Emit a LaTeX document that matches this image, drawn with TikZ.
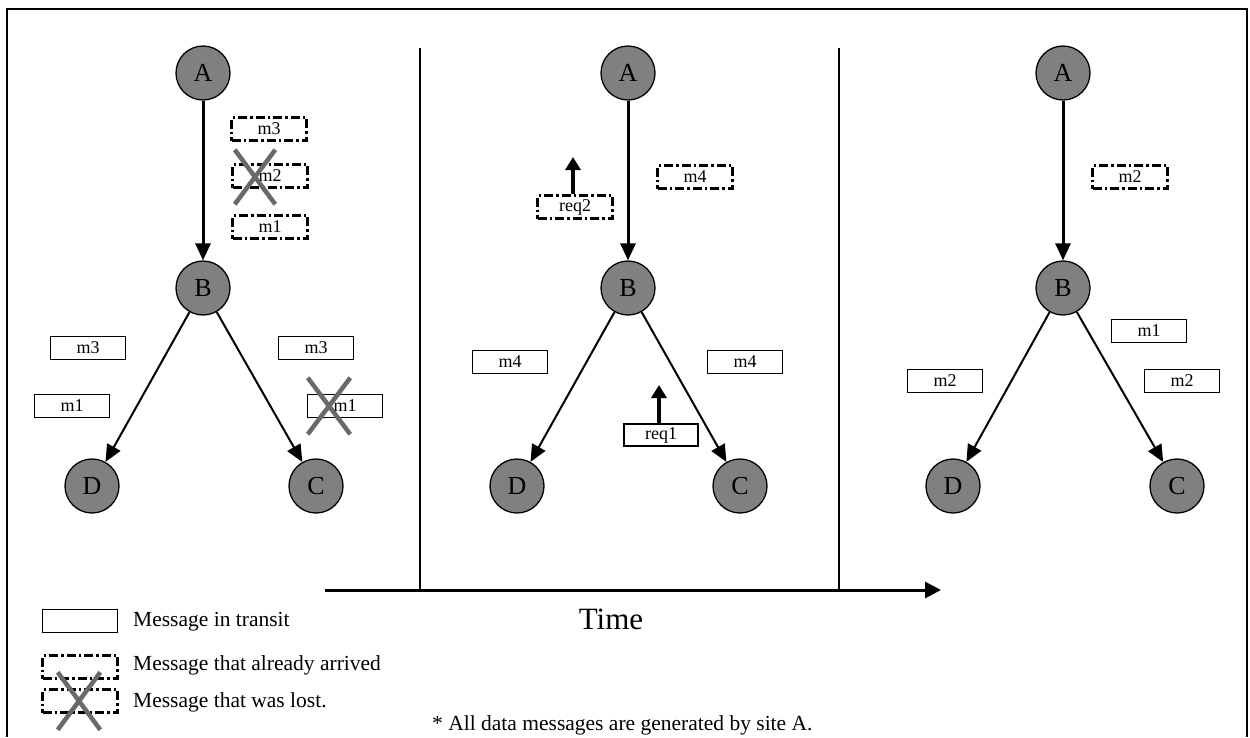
\documentclass[tikz,border=0pt]{standalone}
\usepackage{fontspec}
\setmainfont{Liberation Serif}
\usetikzlibrary{arrows.meta,shapes.misc}
\definecolor{sitegray}{RGB}{128,128,128}
\definecolor{crossgray}{RGB}{105,105,105}
\begin{document}
\begin{tikzpicture}[x=1pt,y=-1pt,
  site/.style={circle,draw=black,line width=1.3pt,fill=sitegray,minimum size=54pt,inner sep=0pt,
    font=\fontsize{26}{26}\selectfont},
  msg/.style={draw=black,line width=1.8pt,fill=white,minimum width=75pt,minimum height=23pt,
    inner sep=0pt,font=\fontsize{18}{18}\selectfont},
  arrived/.style={msg,line width=3pt,dash pattern=on 9pt off 3pt on 2.5pt off 3pt},
  lost/.style={cross out,draw=crossgray,line width=4.5pt,inner sep=0pt},
  flow/.style={draw=black,line width=2pt,-{Triangle[length=17pt,width=15pt]}},
  trunk/.style={flow,line width=3pt},
  request/.style={draw=black,line width=3.5pt,-{Triangle[length=13pt,width=15pt]}},
  legtext/.style={anchor=west,inner sep=0pt,font=\fontsize{21.5}{21.5}\selectfont},
]
\useasboundingbox (0,0) rectangle (1250,737);

% outer frame
\draw[line width=2.5pt] (7,737) -- (7,9) -- (1247,9) -- (1247,737);

% time axis and phase separators
\coordinate (t0) at (325,590);
\coordinate (t1) at (941,590);
\coordinate (s1top) at (420,48);
\coordinate (s2top) at (839,48);
\draw[line width=1.8pt] (s1top) -- (s1top |- t0);
\draw[line width=1.8pt] (s2top) -- (s2top |- t0);
\draw[line width=3pt,-{Triangle[length=16pt,width=16pt]}] (t0) -- (t1);
\node[font=\fontsize{31}{31}\selectfont] (time) at (611,619) {Time};

% ---------- phase 1 ----------
\node[site] (A1) at (203,73) {A};
\node[site] (B1) at (203,288) {B};
\node[site] (D1) at (92,486) {D};
\node[site] (C1) at (316,486) {C};
\draw[trunk] (A1) -- (B1);
\draw[flow] (B1) -- (D1);
\draw[flow] (B1) -- (C1);
\node[arrived] (p1m3) at (269,129) {m3};
\node[arrived] (p1m2) at (270,176) {m2};
\node[arrived] (p1m1) at (270,227) {m1};
\node[lost,minimum width=36pt,minimum height=50pt] (p1x1) at (255,177) {};
\node[msg] (p1dm3) at (88,348) {m3};
\node[msg] (p1dm1) at (72,406) {m1};
\node[msg] (p1cm3) at (316,348) {m3};
\node[msg] (p1cm1) at (345,406) {m1};
\node[lost,minimum width=38pt,minimum height=52pt] (p1x2) at (329,406) {};

% ---------- phase 2 ----------
\node[site] (A2) at (628,73) {A};
\node[site] (B2) at (628,288) {B};
\node[site] (D2) at (517,486) {D};
\node[site] (C2) at (740,486) {C};
\draw[trunk] (A2) -- (B2);
\draw[flow] (B2) -- (D2);
\draw[flow] (B2) -- (C2);
\node[arrived] (p2m4) at (695,177) {m4};
\node[arrived] (req2) at (575,207) {req2};
\coordinate (req2up) at (573,157);
\draw[request] (req2.north -| req2up) -- (req2up);
\node[msg] (p2dm4) at (510,362) {m4};
\node[msg] (p2cm4) at (745,362) {m4};
\node[msg,minimum width=74pt,minimum height=22pt] (req1) at (661,435) {req1};
\coordinate (req1up) at (659,385);
\draw[request] (req1.north -| req1up) -- (req1up);

% ---------- phase 3 ----------
\node[site] (A3) at (1063,73) {A};
\node[site] (B3) at (1063,288) {B};
\node[site] (D3) at (953,486) {D};
\node[site] (C3) at (1177,486) {C};
\draw[trunk] (A3) -- (B3);
\draw[flow] (B3) -- (D3);
\draw[flow] (B3) -- (C3);
\node[arrived] (p3m2) at (1130,177) {m2};
\node[msg] (p3cm1) at (1149,331) {m1};
\node[msg] (p3dm2) at (945,381) {m2};
\node[msg] (p3cm2) at (1182,381) {m2};

% ---------- legend ----------
\node[msg] (key1) at (80,621) {};
\node[legtext] (key1t) at (133,622) {Message in transit};
\node[arrived] (key2) at (80,667) {};
\node[legtext] (key2t) at (133,665) {Message that already arrived};
\node[arrived] (key3) at (80,701) {};
\node[lost,minimum width=38pt,minimum height=53pt] (key3x) at (79,701) {};
\node[legtext] (key3t) at (133,702) {Message that was lost.};

\node[legtext] (note) at (432,725) {* All data messages are generated by site A.};
\end{tikzpicture}
\end{document}
